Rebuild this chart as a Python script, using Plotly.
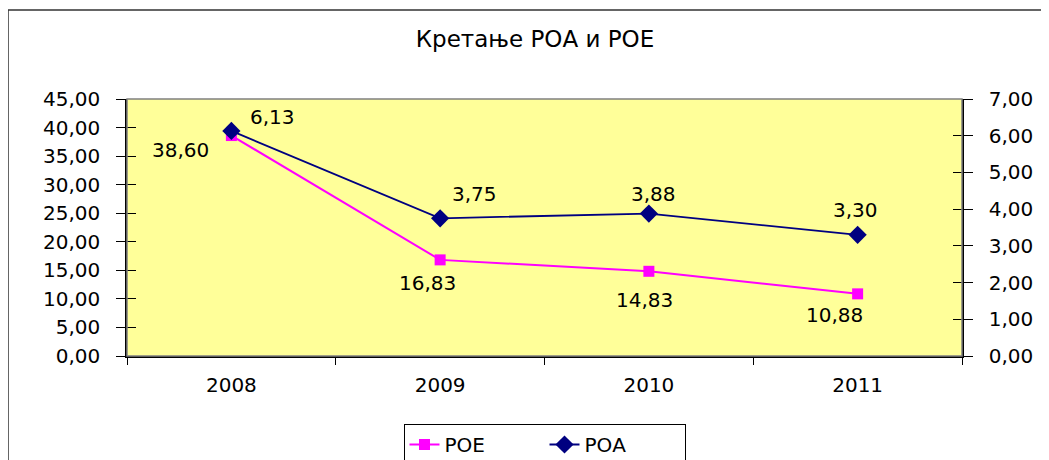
import plotly.graph_objects as go

years = ["2008", "2009", "2010", "2011"]
roe = [38.60, 16.83, 14.83, 10.88]
roa = [6.13, 3.75, 3.88, 3.30]
roe_name = "РОЕ"
roa_name = "РОА"
title_text = "Кретање РОА и РОЕ"
left_ticks = [0, 5, 10, 15, 20, 25, 30, 35, 40, 45]
right_ticks = [0, 1, 2, 3, 4, 5, 6, 7]

# label pixel offsets (style only)
roe_off = [(-51, -14), (-13, -23), (-4, -29), (-23, -21)]
roa_off = [(41, 14), (34, 24), (5, 20), (-2, 25)]

FONT = "DejaVu Sans"
FS = 20

def fmt(v):
    return f"{v:.2f}".replace(".", ",")

fig = go.Figure()
fig.add_trace(go.Scatter(
    x=years, y=roe, name=roe_name, mode="lines+markers",
    line=dict(color="#FF00FF", width=2),
    marker=dict(symbol="square", size=11, color="#FF00FF"),
    yaxis="y", cliponaxis=False))
fig.add_trace(go.Scatter(
    x=years, y=roa, name=roa_name, mode="lines+markers",
    line=dict(color="#000080", width=1.8),
    marker=dict(symbol="diamond", size=14, color="#000080"),
    yaxis="y2", cliponaxis=False))
# empty helper traces so the inside-tick overlay axes are drawn
fig.add_trace(go.Scatter(x=[], y=[], yaxis="y3", showlegend=False, hoverinfo="skip"))
fig.add_trace(go.Scatter(x=[], y=[], yaxis="y4", showlegend=False, hoverinfo="skip"))

anns = []
for i, (v, (dx, dy)) in enumerate(zip(roe, roe_off)):
    anns.append(dict(x=i, y=v, xref="x", yref="y", text=fmt(v), showarrow=False,
                     xshift=dx, yshift=dy, font=dict(family=FONT, size=FS, color="black")))
for i, (v, (dx, dy)) in enumerate(zip(roa, roa_off)):
    anns.append(dict(x=i, y=v, xref="x", yref="y2", text=fmt(v), showarrow=False,
                     xshift=dx, yshift=dy, font=dict(family=FONT, size=FS, color="black")))

OFF = 8  # page body margin
W, H = 1049 - OFF, 460 - OFF
L, R, T, B = 127 - OFF, 962 - OFF, 99 - OFF, 356 - OFF
pw, ph = R - L, B - T

def px_x(p):
    return (p - OFF - L) / pw

def px_y(p):
    return (B - (p - OFF)) / ph

shapes = [
    dict(type="rect", xref="paper", yref="paper", x0=0, x1=1, y0=0, y1=1,
         line=dict(color="#808080", width=1.5), layer="above"),
    dict(type="rect", xref="paper", yref="paper", x0=px_x(8), x1=px_x(1100),
         y0=px_y(520), y1=px_y(10), line=dict(color="#333333", width=1.5)),
]

fig.update_layout(
    width=W, height=H,
    margin=dict(l=L, r=W - R, t=T, b=H - B, autoexpand=False),
    paper_bgcolor="white", plot_bgcolor="#FFFF99",
    separators=", ",
    font=dict(family=FONT, size=FS, color="black"),
    title=dict(text=title_text, x=(535 - OFF) / W, xanchor="center", y=1 - (39 - OFF) / H,
               yanchor="middle", font=dict(family=FONT, size=23, color="black")),
    xaxis=dict(type="category", range=[-0.5, 3.5], tickson="boundaries",
               ticks="outside", ticklen=7, tickcolor="black", showline=True,
               linecolor="black", linewidth=1.5, showgrid=False, zeroline=False,
               ticklabelstandoff=10, tickfont=dict(family=FONT, size=FS)),
    yaxis=dict(range=[0, 45], tickvals=left_ticks, tickformat=".2f", ticks="outside",
               ticklen=9, tickcolor="black", showline=True, linecolor="black", linewidth=1.5,
               showgrid=False, zeroline=False, ticklabelstandoff=12,
               tickfont=dict(family=FONT, size=FS)),
    yaxis2=dict(range=[0, 7], tickvals=right_ticks, tickformat=".2f", overlaying="y",
                side="right", ticks="outside", ticklen=9, tickcolor="black",
                showline=True, linecolor="black", linewidth=1.5, showgrid=False,
                zeroline=False, ticklabelstandoff=12, tickfont=dict(family=FONT, size=FS)),
    yaxis3=dict(range=[0, 45], tickvals=left_ticks, overlaying="y", side="left",
                ticks="inside", ticklen=9, tickcolor="black", showticklabels=False,
                showline=False, showgrid=False, zeroline=False),
    yaxis4=dict(range=[0, 7], tickvals=right_ticks, overlaying="y", side="right",
                ticks="inside", ticklen=9, tickcolor="black", showticklabels=False,
                showline=False, showgrid=False, zeroline=False),
    showlegend=True,
    legend=dict(orientation="h", x=0.5, xanchor="center", yref="container",
                y=1 - (424 - OFF) / H, yanchor="top",
                bordercolor="black", borderwidth=1, bgcolor="white",
                font=dict(family=FONT, size=FS), entrywidth=95, tracegroupgap=0),
    annotations=anns,
    shapes=shapes,
)

fig.write_html("out.html")
